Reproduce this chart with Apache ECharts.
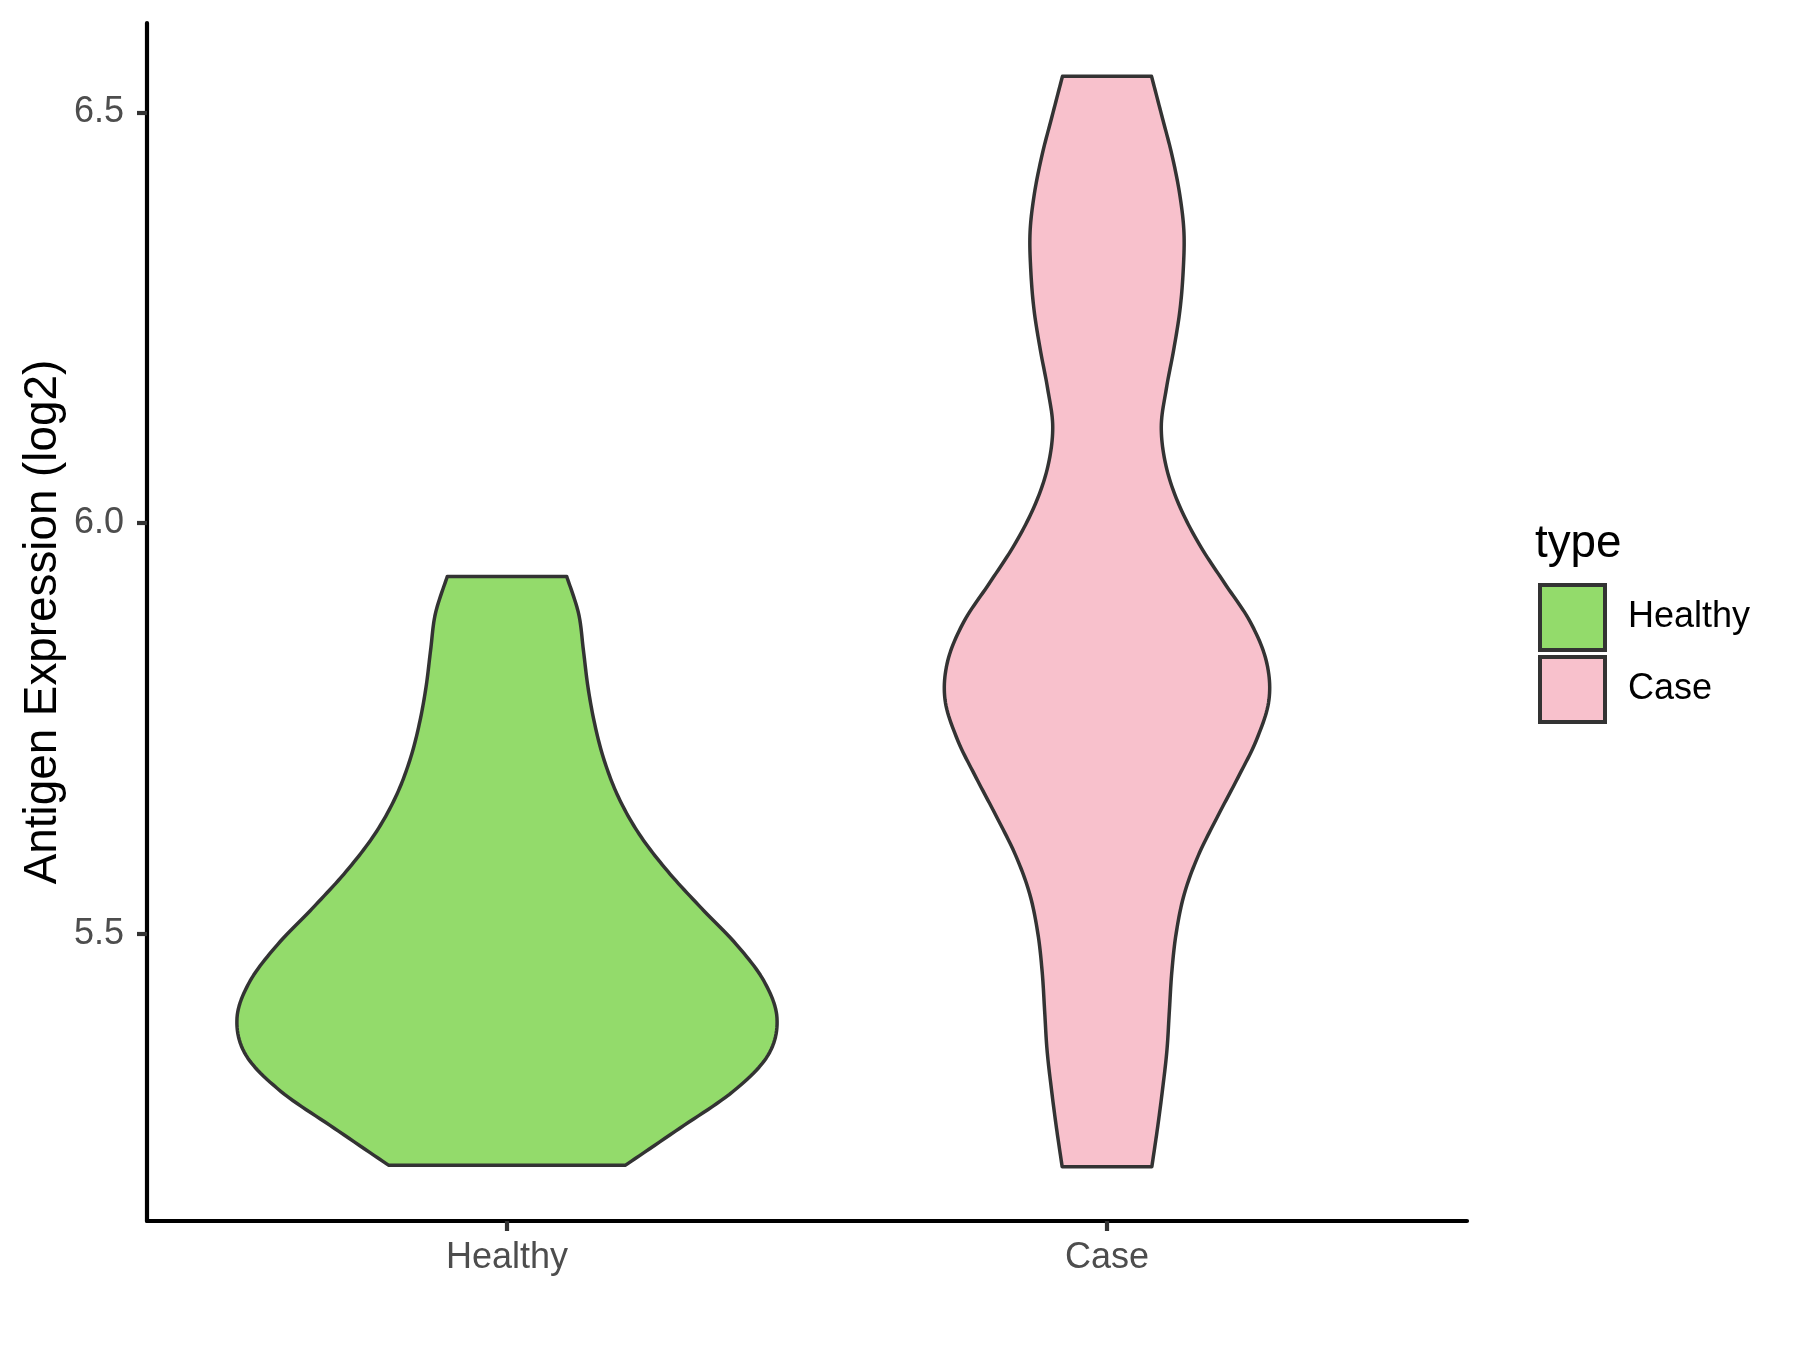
<!DOCTYPE html>
<html>
<head>
<meta charset="utf-8">
<script src="https://cdn.jsdelivr.net/npm/echarts@6/dist/echarts.min.js"></script>
<style>
html,body{margin:0;padding:0;background:#fff;}
#chart{width:1800px;height:1350px;}
</style>
</head>
<body>
<div id="chart"></div>
<script>
// ---- data ----
const categories = ['Healthy', 'Case'];
const yTicks = [5.5, 6.0, 6.5];
// Healthy violin: expression values (ascending) and relative density (1 = widest violin)
const healthyValues  = [5.218, 5.263, 5.308, 5.352, 5.397, 5.442, 5.487, 5.531, 5.576, 5.621, 5.666, 5.711, 5.755, 5.800, 5.845, 5.890, 5.935];
const healthyDensity = [0.439, 0.640, 0.838, 0.967, 1.000, 0.952, 0.849, 0.720, 0.595, 0.490, 0.413, 0.360, 0.325, 0.300, 0.283, 0.265, 0.221];
// Case violin
const caseValues  = [5.216, 5.263, 5.311, 5.358, 5.406, 5.453, 5.500, 5.548, 5.595, 5.643, 5.690, 5.737, 5.785, 5.832, 5.880,
                     5.927, 5.974, 6.022, 6.069, 6.117, 6.164, 6.211, 6.259, 6.306, 6.354, 6.401, 6.449, 6.496, 6.544];
const caseDensity = [0.166, 0.187, 0.206, 0.222, 0.231, 0.240, 0.256, 0.286, 0.338, 0.410, 0.485, 0.555, 0.600, 0.590, 0.530,
                     0.435, 0.342, 0.267, 0.219, 0.201, 0.220, 0.247, 0.270, 0.282, 0.285, 0.269, 0.240, 0.203, 0.165];

const fills = ['#93DB6B', '#F8C1CC'];
const outline = '#333333';
const FONT = '"Liberation Sans", Arial, Helvetica, sans-serif';

const violins = [
  {values: healthyValues, density: healthyDensity},
  {values: caseValues, density: caseDensity}
];
const HALF = 0.45; // max half-width in category units

function catmull(pts, steps) {
  const out = [];
  for (let i = 0; i < pts.length - 1; i++) {
    const p0 = pts[i - 1] || pts[i], p1 = pts[i], p2 = pts[i + 1], p3 = pts[i + 2] || pts[i + 1];
    const c1 = [p1[0] + (p2[0] - p0[0]) / 6, p1[1] + (p2[1] - p0[1]) / 6];
    const c2 = [p2[0] - (p3[0] - p1[0]) / 6, p2[1] - (p3[1] - p1[1]) / 6];
    for (let s = 0; s < steps; s++) {
      const t = s / steps, u = 1 - t;
      out.push([
        u*u*u*p1[0] + 3*u*u*t*c1[0] + 3*u*t*t*c2[0] + t*t*t*p2[0],
        u*u*u*p1[1] + 3*u*u*t*c1[1] + 3*u*t*t*c2[1] + t*t*t*p2[1]
      ]);
    }
  }
  out.push(pts[pts.length - 1]);
  return out;
}

function makeRender(idx) {
  return function (params, api) {
    const v = violins[idx];
    const cat = idx + 1;
    const left = v.values.map((val, i) => api.coord([cat - v.density[i] * HALF, val]));
    const right = v.values.map((val, i) => api.coord([cat + v.density[i] * HALF, val]));
    const leftS = catmull(left, 12);            // bottom -> top
    const rightS = catmull(right, 12).reverse(); // top -> bottom
    return {
      type: 'polygon',
      shape: {points: leftS.concat(rightS)},
      style: {fill: fills[idx], stroke: outline, lineWidth: 3.5, lineJoin: 'round'}
    };
  };
}

const chart = echarts.init(document.getElementById('chart'), null, {renderer: 'canvas'});
chart.setOption({
  animation: false,
  backgroundColor: '#ffffff',
  grid: {left: 147, right: 333, top: 23, bottom: 129, containLabel: false},
  xAxis: {
    type: 'value', min: 0.4, max: 2.6,
    splitLine: {show: false},
    axisLine: {show: true, onZero: false, lineStyle: {color: '#000', width: 4.2}},
    axisTick: {show: true, length: 10, customValues: [1, 2], lineStyle: {color: '#333333', width: 4.2}},
    axisLabel: {
      customValues: [1, 2], margin: 19, color: '#4D4D4D', fontSize: 36, fontFamily: FONT,
      formatter: val => categories[Math.round(val) - 1] || ''
    }
  },
  yAxis: {
    type: 'value', min: 5.150, max: 6.609,
    splitLine: {show: false},
    axisLine: {show: true, onZero: false, lineStyle: {color: '#000', width: 4.2}},
    axisTick: {show: true, length: 10, customValues: yTicks, lineStyle: {color: '#333333', width: 4.2}},
    axisLabel: {
      customValues: yTicks, margin: 23, color: '#4D4D4D', fontSize: 36, fontFamily: FONT,
      formatter: val => val.toFixed(1)
    }
  },
  legend: {
    orient: 'vertical', left: 1538, top: 583, padding: 0,
    itemWidth: 65, itemHeight: 65, itemGap: 3,
    icon: 'rect',
    textStyle: {fontSize: 36, color: '#000', fontFamily: FONT, padding: [0, 0, 0, 18]},
    data: [
      {name: 'Healthy', itemStyle: {color: fills[0], borderColor: outline, borderWidth: 4}},
      {name: 'Case', itemStyle: {color: fills[1], borderColor: outline, borderWidth: 4}}
    ],
    selectedMode: false
  },
  graphic: [
    {type: 'text', x: 43, y: 622, rotation: Math.PI / 2,
     style: {text: 'Antigen Expression (log2)', fontSize: 45.8, fontFamily: FONT, fill: '#000', align: 'center', verticalAlign: 'middle'}},
    {type: 'text', x: 1535, y: 544.5,
     style: {text: 'type', fontSize: 45.8, fontFamily: FONT, fill: '#000', align: 'left', verticalAlign: 'middle'}}
  ],
  series: [
    {name: 'Healthy', type: 'custom', renderItem: makeRender(0), data: [[1, 5.5]], encode: {x: 0, y: 1},
     itemStyle: {color: fills[0], borderColor: outline}, silent: true},
    {name: 'Case', type: 'custom', renderItem: makeRender(1), data: [[2, 6.0]], encode: {x: 0, y: 1},
     itemStyle: {color: fills[1], borderColor: outline}, silent: true}
  ]
});
</script>
</body>
</html>
